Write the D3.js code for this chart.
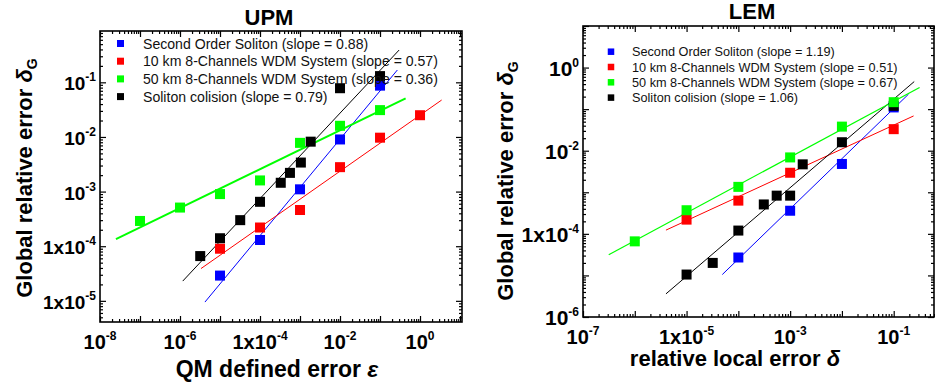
<!DOCTYPE html>
<html>
<head>
<meta charset="utf-8">
<script src="https://cdn.jsdelivr.net/npm/d3@7"></script>
<style>
  body { margin: 0; background: #fff; }
  svg { font-family: Arial, "Liberation Sans", sans-serif; }
</style>
</head>
<body>
<div id="chart"></div>
<script>
// series shared by both panels
const seriesNames = ["Second Order Soliton", "10 km 8-Channels WDM System", "50 km 8-Channels WDM System", "Soliton colision"];
const seriesColors = ["#0000ff", "#ff0000", "#00ff00", "#000000"];

// ---- UPM panel: x = QM defined error, y = global relative error
const upmSlopes = [0.88, 0.57, 0.36, 0.79];
const upmSecondOrder = [[1e-5, 2.9e-5], [1e-4, 1.3e-4], [1e-3, 1.1e-3], [1e-2, 9e-3], [1e-1, 0.087]];
const upmWdm10 = [[1e-5, 9e-5], [1e-4, 2.2e-4], [1e-3, 4.6e-4], [1e-2, 2.8e-3], [1e-1, 9.7e-3], [1, 0.025]];
const upmWdm50 = [[1e-7, 2.9e-4], [1e-6, 5.1e-4], [1e-5, 9e-4], [1e-4, 1.6e-3], [1e-3, 7.8e-3], [1e-2, 0.016], [1e-1, 0.031]];
const upmCollision = [[3.2e-6, 6.6e-5], [1e-5, 1.4e-4], [3.2e-5, 3e-4], [1e-4, 6.5e-4], [3.3e-4, 1.45e-3],
  [5.6e-4, 2.2e-3], [1.05e-3, 3.4e-3], [1.85e-3, 8.2e-3], [1e-2, 0.078], [1e-1, 0.13]];
// fitted lines (end points)
const upmFits = [
  [[4.2e-6, 9.5e-6], [0.271, 0.168]],
  [[3.35e-6, 3.9e-5], [3.47, 0.0474]],
  [[2.5e-8, 1.35e-4], [0.437, 0.0509]],
  [[1.17e-6, 2.3e-5], [0.3, 0.39]]
];
const upmXTicks = [1e-8, 1e-6, 1e-4, 1e-2, 1];
const upmXTickLabels = ["10^-8", "10^-6", "1x10^-4", "10^-2", "10^0"];
const upmYTicks = [1e-1, 1e-2, 1e-3, 1e-4, 1e-5];
const upmYTickLabels = ["10^-1", "10^-2", "10^-3", "1x10^-4", "1x10^-5"];

// ---- LEM panel: x = relative local error, y = global relative error
const lemSlopes = [1.19, 0.51, 0.67, 1.06];
const lemSecondOrder = [[1e-4, 2.7e-5], [1e-3, 3.6e-4], [1e-2, 4.8e-3], [1e-1, 0.11]];
const lemWdm10 = [[1e-5, 2.2e-4], [1e-4, 6.3e-4], [1e-3, 2.95e-3], [1e-1, 0.033]];
const lemWdm50 = [[1e-6, 6.6e-5], [1e-5, 3.7e-4], [1e-4, 1.35e-3], [1e-3, 6.9e-3], [1e-2, 0.038], [1e-1, 0.147]];
const lemCollision = [[1e-5, 1.05e-5], [3.2e-5, 2e-5], [1e-4, 1.2e-4], [3.1e-4, 5.1e-4], [5.5e-4, 8.3e-4],
  [1e-3, 8.3e-4], [1.75e-3, 4.7e-3], [1e-2, 0.016], [1e-1, 0.12]];
const lemFits = [
  [[4.9e-5, 1.05e-5], [0.193, 0.229]],
  [[4e-6, 1.23e-4], [0.242, 0.0686]],
  [[3.14e-7, 3.16e-5], [0.316, 0.331]],
  [[4e-6, 3.6e-6], [0.249, 0.46]]
];
const lemXTicks = [1e-7, 1e-5, 1e-3, 1e-1];
const lemXTickLabels = ["10^-7", "1x10^-5", "10^-3", "10^-1"];
const lemYTicks = [1, 1e-2, 1e-4, 1e-6];
const lemYTickLabels = ["10^0", "10^-2", "1x10^-4", "10^-6"];

const svg = d3.select("#chart").append("svg")
    .attr("width", 935)
    .attr("height", 385);

// all 1..9 x 10^n values inside a log domain
function logTicks(domain) {
    const out = [];
    for (let e = Math.floor(Math.log10(domain[0])); e <= Math.ceil(Math.log10(domain[1])); e++) {
        for (let k = 1; k < 10; k++) {
            const v = k * Math.pow(10, e);
            if (v >= domain[0] * 0.9999 && v <= domain[1] * 1.0001) out.push({ v: v, major: k === 1 });
        }
    }
    return out;
}

// "1x10^-4" -> 1x10 with superscript -4
function supText(sel, label, supSize, rise) {
    const parts = label.split("^");
    sel.append("tspan").text(parts[0]);
    sel.append("tspan").attr("dy", -rise).attr("font-size", supSize).text(parts[1]);
}

function drawPanel(p) {
    const x = d3.scaleLog().domain(p.xDomain).range([p.left, p.right]);
    const y = d3.scaleLog().domain(p.yDomain).range([p.bottom, p.top]);
    const g = svg.append("g");

    const xt = logTicks(p.xDomain);
    const yt = logTicks(p.yDomain);
    const noDomain = (s) => s.select(".domain").remove();

    const axes = [
        [d3.axisBottom(x), xt, `translate(0,${p.bottom})`],
        [d3.axisTop(x), xt, `translate(0,${p.top})`],
        [d3.axisLeft(y), yt, `translate(${p.left},0)`],
        [d3.axisRight(y), yt, `translate(${p.right},0)`]
    ];
    axes.forEach(function (a) {
        [true, false].forEach(function (isMajor) {
            g.append("g")
                .attr("transform", a[2])
                .call(a[0].tickValues(a[1].filter(d => d.major === isMajor).map(d => d.v))
                    .tickSize(isMajor ? -6 : -3)
                    .tickSizeOuter(0)
                    .tickFormat(""))
                .call(noDomain)
                .selectAll("line")
                .attr("stroke", "#000")
                .attr("stroke-width", 1.2);
        });
    });

    g.append("rect")
        .attr("x", p.left)
        .attr("y", p.top)
        .attr("width", p.right - p.left)
        .attr("height", p.bottom - p.top)
        .attr("fill", "none")
        .attr("stroke", "#000")
        .attr("stroke-width", 1.6);

    // tick labels
    p.xTicks.forEach(function (v, i) {
        const t = g.append("text")
            .attr("x", x(v))
            .attr("y", p.xLabelY)
            .attr("text-anchor", "middle")
            .attr("font-weight", "bold")
            .attr("font-size", p.xLabelSize);
        supText(t, p.xTickLabels[i], 12, 9);
    });
    p.yTicks.forEach(function (v, i) {
        const t = g.append("text")
            .attr("x", p.left - 4)
            .attr("y", y(v) + 8)
            .attr("text-anchor", "end")
            .attr("font-weight", "bold")
            .attr("font-size", p.yLabelSize);
        supText(t, p.yTickLabels[i], 12, 9);
    });

    // fitted lines, then the markers
    p.order.forEach(function (si) {
        g.append("line")
            .attr("x1", x(p.fits[si][0][0]))
            .attr("y1", y(p.fits[si][0][1]))
            .attr("x2", x(p.fits[si][1][0]))
            .attr("y2", y(p.fits[si][1][1]))
            .attr("stroke", seriesColors[si])
            .attr("stroke-width", p.fitWidths[si]);
    });
    p.order.forEach(function (si) {
        g.selectAll(null)
            .data(p.series[si])
            .enter()
            .append("rect")
            .attr("x", d => x(d[0]) - 5)
            .attr("y", d => y(d[1]) - 5)
            .attr("width", 10)
            .attr("height", 10)
            .attr("fill", seriesColors[si]);
    });

    // legend
    seriesNames.forEach(function (name, i) {
        const cy = p.legendY + i * p.legendStep;
        g.append("rect")
            .attr("x", p.legendX - p.legendBox / 2)
            .attr("y", cy - p.legendBox / 2)
            .attr("width", p.legendBox)
            .attr("height", p.legendBox)
            .attr("fill", seriesColors[i]);
        g.append("text")
            .attr("x", p.legendTextX)
            .attr("y", cy + p.legendSize * 0.36)
            .attr("font-size", p.legendSize)
            .attr("fill", "#111")
            .text(`${name} (slope = ${p.slopes[i].toFixed(2)})`);
    });

    // titles
    g.append("text")
        .attr("x", p.titleX)
        .attr("y", p.titleY)
        .attr("text-anchor", "middle")
        .attr("font-weight", "bold")
        .attr("font-size", 22)
        .text(p.title);

    const xTitle = g.append("text")
        .attr("x", p.xTitleX)
        .attr("y", p.xTitleY)
        .attr("text-anchor", "middle")
        .attr("font-weight", "bold")
        .attr("font-size", p.xTitleSize);
    xTitle.append("tspan").text(p.xTitle + " ");
    xTitle.append("tspan").attr("font-style", "italic").text(p.xSymbol);

    const yTitle = g.append("text")
        .attr("transform", `translate(${p.yTitleX},${p.yTitleY}) rotate(-90)`)
        .attr("text-anchor", "middle")
        .attr("font-weight", "bold")
        .attr("font-size", 22);
    yTitle.append("tspan").text("Global relative error ");
    yTitle.append("tspan").attr("font-style", "italic").text("\u03b4");
    yTitle.append("tspan").attr("dy", 5).attr("font-size", 14).text("G");
}

drawPanel({
    title: "UPM", titleX: 269, titleY: 25,
    left: 100, right: 462, top: 31, bottom: 322,
    xDomain: [1e-8, 11.2], yDomain: [4.1e-6, 0.87],
    xTicks: upmXTicks, xTickLabels: upmXTickLabels, xLabelY: 349, xLabelSize: 20,
    yTicks: upmYTicks, yTickLabels: upmYTickLabels, yLabelSize: 19,
    series: [upmSecondOrder, upmWdm10, upmWdm50, upmCollision],
    fits: upmFits, fitWidths: [1, 1, 2, 1], slopes: upmSlopes, order: [0, 1, 2, 3],
    legendX: 120.5, legendTextX: 143, legendY: 43.5, legendStep: 17.7, legendBox: 7, legendSize: 14.1,
    xTitle: "QM defined error", xSymbol: "\u03b5", xTitleX: 277, xTitleY: 377, xTitleSize: 23,
    yTitleX: 32, yTitleY: 178
});

drawPanel({
    title: "LEM", titleX: 752, titleY: 19,
    left: 583, right: 934, top: 26, bottom: 317,
    xDomain: [1e-7, 0.6], yDomain: [1e-6, 10],
    xTicks: lemXTicks, xTickLabels: lemXTickLabels, xLabelY: 344, xLabelSize: 20,
    yTicks: lemYTicks, yTickLabels: lemYTickLabels, yLabelSize: 21,
    series: [lemSecondOrder, lemWdm10, lemWdm50, lemCollision],
    fits: lemFits, fitWidths: [1, 1, 1.2, 1], slopes: lemSlopes, order: [0, 1, 3, 2],
    legendX: 611, legendTextX: 632, legendY: 51.7, legendStep: 15.3, legendBox: 6.5, legendSize: 12.7,
    xTitle: "relative local error", xSymbol: "\u03b4", xTitleX: 735, xTitleY: 366, xTitleSize: 22,
    yTitleX: 513, yTitleY: 181
});
</script>
</body>
</html>
